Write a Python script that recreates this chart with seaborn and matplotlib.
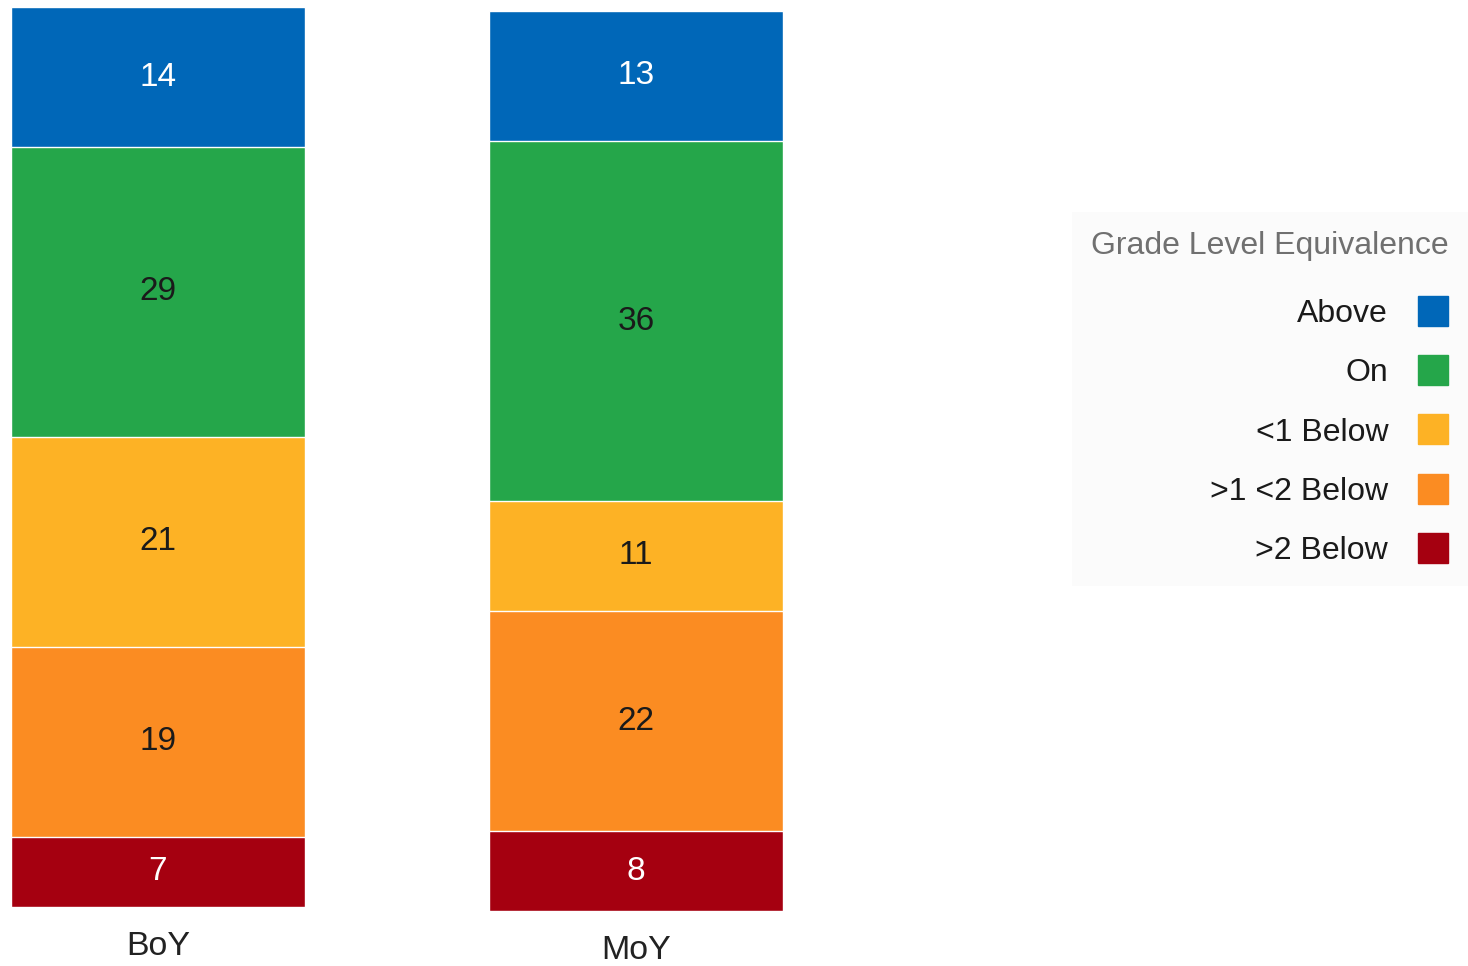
import numpy as np
import pandas as pd
import matplotlib
matplotlib.use('Agg')
import matplotlib.pyplot as plt
from matplotlib.lines import Line2D
import seaborn as sns

periods = ['BoY', 'MoY']
levels = ['Above', 'On', '<1 Below', '>1 <2 Below', '>2 Below']
colors = ['#0067b8', '#25a64a', '#fdb225', '#fb8c22', '#a50010']
value_colors = ['white', '#1a1a1a', '#1a1a1a', '#1a1a1a', 'white']

above = [14, 13]
on = [29, 36]
below_1 = [21, 11]
below_1_2 = [19, 22]
below_2 = [7, 8]

sns.set_theme(style='white')
plt.rcParams['font.family'] = ['Liberation Sans', 'DejaVu Sans']

fig = plt.figure(figsize=(14.68, 9.66), dpi=100)

# one axes per bar, the MoY column sits a few pixels lower in the original
ax_left = [0, 478]
ax_bottom = [59, 55]

series = [above, on, below_1, below_1_2, below_2]
cum = np.array(series[::-1]).cumsum(axis=0)[::-1]

for j, per in enumerate(periods):
    ax = fig.add_axes([ax_left[j] / 1468, ax_bottom[j] / 966, 316 / 1468, 900 / 966])
    # tallest cumulative bar first, smaller ones over it
    for i, lev in enumerate(levels):
        df = pd.DataFrame({'period': [per], 'total': [cum[i][j]]})
        sns.barplot(data=df, x='period', y='total', color=colors[i], saturation=1,
                    width=0.615, ax=ax)
        v = series[i][j]
        ax.text(0, cum[i][j] - v / 2, str(v), ha='center', va='center',
                fontsize=24, color=value_colors[i])
    ax.set_xlim(-158 / 478, 158 / 478)
    ax.set_ylim(0, 90)
    ax.set_xlabel('')
    ax.set_ylabel('')
    ax.set_yticks([])
    ax.tick_params(axis='x', length=0, pad=17, labelsize=24.5, labelcolor='#222222')
    sns.despine(ax=ax, left=True, bottom=True)
    ax.patch.set_alpha(0)

handles = [Line2D([], [], marker='s', linestyle='', markersize=22, color=c) for c in colors]
leg = fig.legend(handles, levels, title='Grade Level Equivalence',
                 loc='upper right', bbox_to_anchor=(1.0, (966 - 212) / 966),
                 borderaxespad=0, markerfirst=False, alignment='right',
                 fontsize=23, title_fontsize=23, handlelength=1.0,
                 handletextpad=0.9, labelspacing=0.92, borderpad=0.6,
                 frameon=True, facecolor='#fbfbfb', edgecolor='none', fancybox=False)
leg._legend_box.sep = 0.92 * 23 + 6
leg.get_title().set_color('#707070')
for t in leg.get_texts():
    t.set_color('#1a1a1a')

fig.savefig('out.png', dpi=100)
